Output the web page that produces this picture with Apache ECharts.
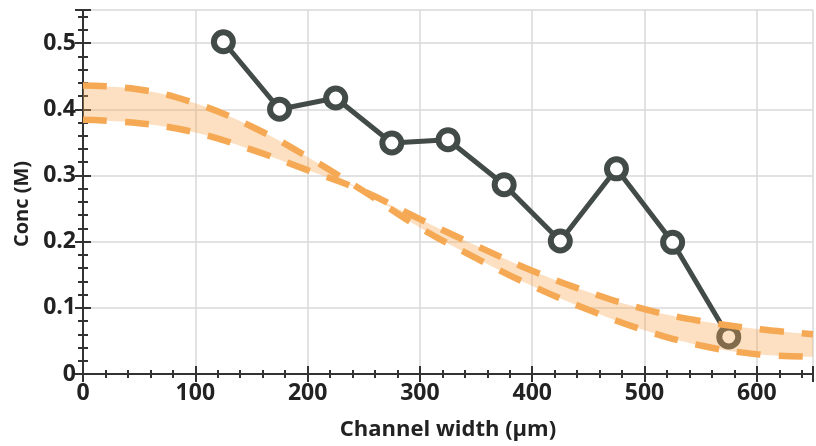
<!DOCTYPE html>
<html>
<head>
<meta charset="utf-8">
<script src="https://cdn.jsdelivr.net/npm/echarts@6/dist/echarts.min.js"></script>
<style>html,body{margin:0;padding:0;background:#fff}#c{width:816px;height:446px}</style>
</head>
<body>
<div id="c"></div>
<script>
// Measured points (channel width in µm, concentration in M)
var measX = [125, 175, 225, 275, 325, 375, 425, 475, 525, 575];
var measY = [0.502, 0.400, 0.417, 0.349, 0.354, 0.286, 0.201, 0.310, 0.199, 0.056];

// Model band bounds, read at every 50 µm
var curveX = [0, 50, 100, 150, 200, 250, 300, 350, 400, 450, 500, 550, 600, 650];
var curveA = [0.436, 0.430, 0.409, 0.374, 0.328, 0.276, 0.221, 0.175, 0.133, 0.097, 0.066, 0.043, 0.030, 0.026];
var curveB = [0.384, 0.379, 0.365, 0.339, 0.308, 0.276, 0.234, 0.194, 0.156, 0.124, 0.098, 0.080, 0.068, 0.060];

var xTicks = [0, 100, 200, 300, 400, 500, 600];
var yTicks = [0, 0.1, 0.2, 0.3, 0.4, 0.5];

var FONT = '"Open Sans", "DejaVu Sans", sans-serif';
var AX = '#333333';
var DARK = '#434b49';
var ORANGE = '#f6a955';

function pairs(xs, ys) { return xs.map(function (x, i) { return [x, ys[i]]; }); }
var lower = curveX.map(function (x, i) { return Math.min(curveA[i], curveB[i]); });
var spread = curveX.map(function (x, i) { return Math.abs(curveA[i] - curveB[i]); });

function xAx(pos, major, show) {
  return {
    type: 'value', position: pos, min: 0, max: 650, interval: major ? 100 : 20,
    axisLine: { show: major, lineStyle: { color: AX, width: 2 } },
    axisTick: { show: true, inside: true, length: major ? 8 : 4, lineStyle: { color: AX, width: 2 } },
    axisLabel: show ? {
      show: true, margin: 8, color: '#222', fontFamily: FONT, fontWeight: 'bold', fontSize: 23,
      formatter: function (v) { return xTicks.indexOf(v) >= 0 ? String(v) : ''; }
    } : { show: false },
    splitLine: (show) ? { show: true, lineStyle: { color: '#d8d8d8', width: 1.5 } } : { show: false },
    name: show ? 'Channel width (μm)' : '',
    nameLocation: 'middle', nameGap: 45,
    nameTextStyle: { color: '#222', fontFamily: FONT, fontWeight: 'bold', fontSize: 22 }
  };
}
function yAx(pos, major, show) {
  return {
    type: 'value', position: pos, min: 0, max: 0.55, interval: major ? 0.1 : 0.02,
    axisLine: { show: major, lineStyle: { color: AX, width: 2 } },
    axisTick: { show: true, inside: true, length: major ? 8 : 5, lineStyle: { color: AX, width: 2 } },
    axisLabel: show ? {
      show: true, margin: 7, color: '#222', fontFamily: FONT, fontWeight: 'bold', fontSize: 23,
      formatter: function (v) {
        for (var i = 0; i < yTicks.length; i++) if (Math.abs(yTicks[i] - v) < 1e-9) return String(yTicks[i]);
        return '';
      }
    } : { show: false },
    splitLine: (show) ? { show: true, lineStyle: { color: '#d8d8d8', width: 1.5 } } : { show: false },
    name: show ? 'Conc (M)' : '',
    nameLocation: 'middle', nameGap: 50,
    nameTextStyle: { color: '#222', fontFamily: FONT, fontWeight: 'bold', fontSize: 20, padding: [0, 24, 0, 0] }
  };
}

var bandAxis = {
  type: 'category', position: 'bottom', data: curveX.map(String), boundaryGap: false,
  show: false, axisLine: { show: false }, axisTick: { show: false }, axisLabel: { show: false }, splitLine: { show: false }
};

var chart = echarts.init(document.getElementById('c'), null, { renderer: 'canvas' });
chart.setOption({
  animation: false,
  backgroundColor: '#ffffff',
  grid: { left: 83, top: 10, right: -3, bottom: 72, containLabel: false },
  xAxis: [xAx('bottom', true, true), xAx('bottom', false, false), xAx('top', true, false), xAx('top', false, false), bandAxis],
  yAxis: [yAx('left', true, true), yAx('left', false, false), yAx('right', true, false), yAx('right', false, false)],
  series: [
    {
      type: 'line', data: pairs(measX, measY), z: 2,
      symbol: 'circle', symbolSize: 19,
      lineStyle: { color: DARK, width: 5 },
      itemStyle: { color: '#ffffff', borderColor: DARK, borderWidth: 6 }
    },
    {
      type: 'line', xAxisIndex: 4, data: lower, stack: 'band', smooth: 0.4, symbol: 'none', z: 3,
      lineStyle: { width: 0, opacity: 0 }, areaStyle: { opacity: 0 }
    },
    {
      type: 'line', xAxisIndex: 4, data: spread, stack: 'band', smooth: 0.4, symbol: 'none', z: 3,
      lineStyle: { width: 0, opacity: 0 }, areaStyle: { color: 'rgba(247,166,80,0.5)' }
    },
    {
      type: 'line', data: pairs(curveX, curveA), smooth: 0.4, symbol: 'none', z: 4,
      lineStyle: { color: ORANGE, width: 6.5, type: [24, 18], cap: 'butt' }
    },
    {
      type: 'line', data: pairs(curveX, curveB), smooth: 0.4, symbol: 'none', z: 4,
      lineStyle: { color: ORANGE, width: 6.5, type: [24, 18], cap: 'butt' }
    }
  ]
});
</script>
</body>
</html>
